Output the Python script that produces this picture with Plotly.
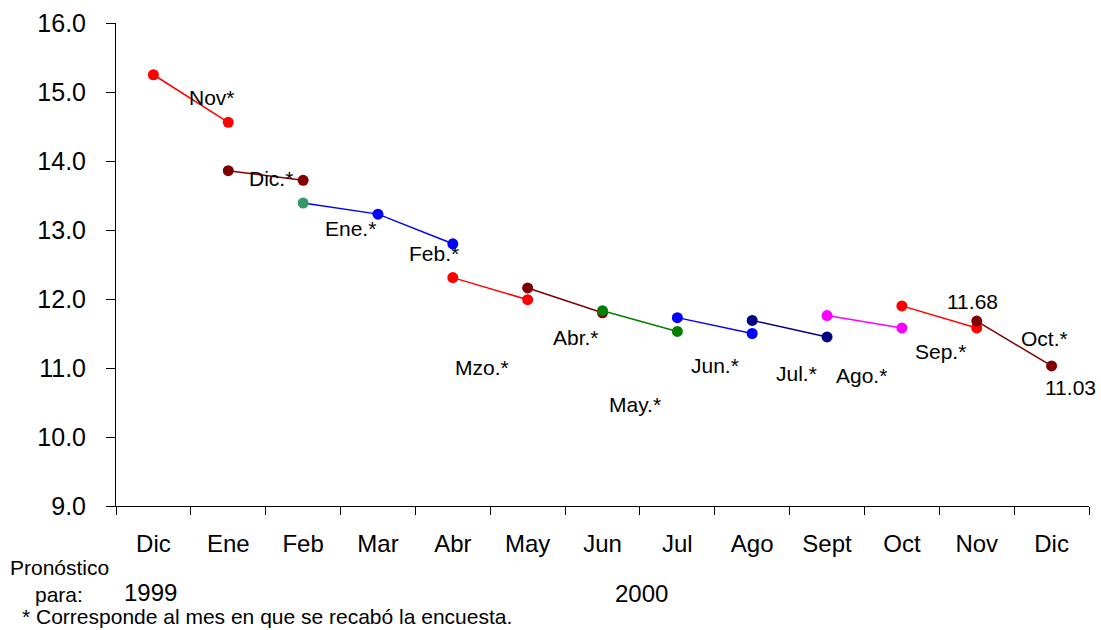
import plotly.graph_objects as go

months = ["Dic", "Ene", "Feb", "Mar", "Abr", "May", "Jun", "Jul", "Ago", "Sept", "Oct", "Nov", "Dic"]
y_ticks = [9, 10, 11, 12, 13, 14, 15, 16]

# Each survey: label, first forecast month index, forecast values
survey_labels = ["Nov*", "Dic.*", "Ene.*", "Mzo.*", "Abr.*", "May.*", "Jun.*", "Jul.*", "Ago.*", "Sep.*", "Oct.*"]
survey_start = [0, 1, 2, 4, 5, 6, 7, 8, 9, 10, 11]
survey_values = [
    [15.25, 14.56],
    [13.86, 13.72],
    [13.39, 13.23, 12.80],
    [12.31, 11.99],
    [12.16, 11.80],
    [11.83, 11.53],
    [11.73, 11.50],
    [11.69, 11.45],
    [11.76, 11.58],
    [11.90, 11.58],
    [11.68, 11.03],
]
survey_colors = ["#FF0000", "#800000", "#0000FF", "#FF0000", "#800000", "#008000",
                 "#0000FF", "#000080", "#FF00FF", "#FF0000", "#800000"]

FONT = "Liberation Sans, Arial, sans-serif"
fig = go.Figure()

for i, vals in enumerate(survey_values):
    xs = list(range(survey_start[i], survey_start[i] + len(vals)))
    mcol = [survey_colors[i]] * len(vals)
    if survey_labels[i] == "Ene.*":
        mcol[0] = "#339966"
    fig.add_trace(go.Scatter(
        x=xs, y=vals, mode="lines+markers",
        line=dict(color=survey_colors[i], width=1.5),
        marker=dict(color=mcol, size=11),
        showlegend=False, hoverinfo="skip"))

def pt(si, pi):
    return survey_start[si] + pi, survey_values[si][pi]

# Label placement: (series index, point index, xshift, yshift, text)
label_specs = [
    (0, 1, -16, 25, "Nov*"),
    (1, 1, -32, 2, "Dic.*"),
    (2, 1, -27, -14, "Ene.*"),
    (2, 2, -19, -10, "Feb.*"),
    (3, 1, -46, -68, "Mzo.*"),
    (4, 1, -27, -25, "Abr.*"),
    (5, 1, -42, -73, "May.*"),
    (6, 1, -37, -32, "Jun.*"),
    (7, 1, -31, -37, "Jul.*"),
    (8, 1, -40, -48, "Ago.*"),
    (9, 1, -36, -24, "Sep.*"),
    (10, 1, -7, 27, "Oct.*"),
]
LBL = dict(size=21, color="black", family=FONT)
annotations = []
for si, pi, dx, dy, txt in label_specs:
    x, y = pt(si, pi)
    annotations.append(dict(x=x, y=y, xref="x", yref="y", text=txt, showarrow=False,
                            xshift=dx, yshift=dy, font=LBL))
for pi, dx, dy in [(0, -4, 20), (1, 19, -22)]:
    x, y = pt(10, pi)
    annotations.append(dict(x=x, y=y, xref="x", yref="y", text=f"{y:.2f}", showarrow=False,
                            xshift=dx, yshift=dy, font=LBL))

# Footer texts
annotations += [
    dict(x=-0.111, y=-0.128, xref="paper", yref="paper", text="Pronóstico", showarrow=False,
         xanchor="left", yanchor="middle", font=LBL),
    dict(x=-0.0853, y=-0.184, xref="paper", yref="paper", text="para:", showarrow=False,
         xanchor="left", yanchor="middle", font=LBL),
    dict(x=0.006, y=-0.180, xref="paper", yref="paper", text="1999", showarrow=False,
         xanchor="left", yanchor="middle", font=dict(size=24, family=FONT, color="black")),
    dict(x=0.511, y=-0.182, xref="paper", yref="paper", text="2000", showarrow=False,
         xanchor="left", yanchor="middle", font=dict(size=24, family=FONT, color="black")),
    dict(x=-0.0987, y=-0.2285, xref="paper", yref="paper",
         text="* Corresponde al mes en que se recabó la encuesta.", showarrow=False,
         xanchor="left", yanchor="middle", font=LBL),
]

fig.update_layout(
    width=1101, height=630,
    margin=dict(l=116, r=12, t=23, b=124),
    paper_bgcolor="white", plot_bgcolor="white",
    font=dict(family=FONT, color="black", size=24),
    annotations=annotations,
    xaxis=dict(
        range=[-0.5, 12.5], tickmode="array", tickvals=list(range(len(months))), ticktext=months,
        ticks="", showgrid=False, zeroline=False, showline=True, linecolor="black", linewidth=1,
        ticklabelstandoff=16, tickfont=dict(size=24), automargin=False,
        minor=dict(tickmode="linear", tick0=0.5, dtick=1, ticks="outside", ticklen=8,
                   tickcolor="black", showgrid=False),
    ),
    yaxis=dict(
        range=[9, 16], tickmode="array", tickvals=y_ticks, tickformat=".1f",
        ticks="outside", ticklen=9, tickcolor="black", showgrid=False, zeroline=False,
        showline=True, linecolor="black", linewidth=1, ticklabelstandoff=15,
        tickfont=dict(size=25), automargin=False,
    ),
)

fig.write_html("out.html", config={"displayModeBar": False},
               post_script="document.body.style.margin='0';document.body.style.overflow='hidden';")
